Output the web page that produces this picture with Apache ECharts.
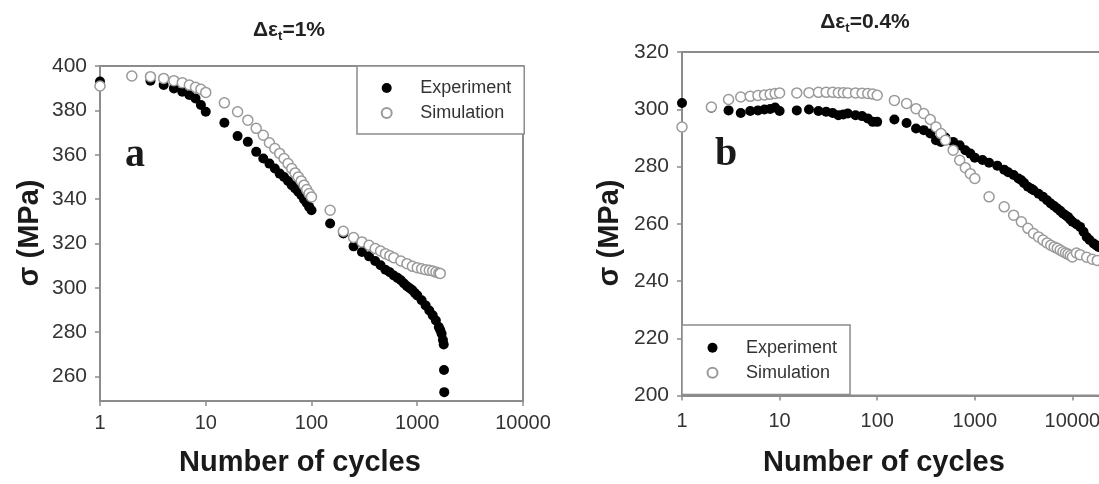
<!DOCTYPE html>
<html><head><meta charset="utf-8">
<script src="https://cdn.jsdelivr.net/npm/echarts@6/dist/echarts.min.js"></script>
<style>html,body{margin:0;padding:0;background:#fff}#c{width:1099px;height:484px}</style>
</head><body><div id="c"></div>
<script>
// ---- Panel a (Δε_t = 1%) ----
const cyclesA_exp = [1,2,3,4,5,6,7,8,9,10,15,20,25,30,35,40,45,50,55,60,65,70,75,80,85,90,95,100,150,200,250,300,350,400,450,500,550,600,650,700,750,800,850,900,950,1000,1100,1200,1300,1400,1500,1600,1650,1700,1750,1780,1790,1800];
const stressA_exp = [393,395.5,393.4,391.4,389.9,388.4,386.9,385.4,382.4,379.4,374.4,368.4,365.8,361.3,358.3,356,353.8,351.5,350,348.2,346.3,344.8,343.3,341.8,339.8,338.3,336.5,335,329,324.5,318.7,316.2,314.2,312.1,310.2,308.2,307,305.6,304.5,303.4,302,300.7,299.8,298.9,297.7,296.6,294.4,292.1,289.8,287.6,285.3,282.3,281,279.3,276.5,274.5,263,253];
const cyclesA_sim = [1,2,3,4,5,6,7,8,9,10,15,20,25,30,35,40,45,50,55,60,65,70,75,80,85,90,95,100,150,200,250,300,350,400,450,500,550,600,700,800,900,1000,1100,1200,1300,1400,1500,1600,1650];
const stressA_sim = [391,395.5,395.2,394.4,393.4,392.5,391.4,390.4,389.5,388.1,383.4,379.4,375.6,371.9,368.8,365.4,362.8,360.6,358.3,356,353.8,351.8,350,348.2,346.3,344.3,342.5,341,335,325.5,322.7,320.7,319.2,317.7,316.6,315.4,314.5,313.6,312.1,310.9,309.7,309.1,308.6,308.2,307.9,307.6,307.1,306.7,306.5];
const yTicksA = [260,280,300,320,340,360,380,400];

// ---- Panel b (Δε_t = 0.4%) ----
const cyclesB_exp = [1,2,3,4,5,6,7,8,9,10,15,20,25,30,35,40,45,50,60,70,80,90,100,150,200,250,300,350,400,450,500,600,700,800,900,1000,1200,1400,1700,2000,2200,2500,2800,3000,3200,3500,3800,4000,4500,5000,5500,6000,6500,7000,7500,8000,8500,9000,9500,10000,11000,12000,13000,14000,15000,16500,17500,18500];
const stressB_exp = [302.2,300.5,299.6,298.7,299.4,299.6,299.9,300.1,300.6,299.4,299.6,299.9,299.4,299.1,298.7,297.9,298.2,298.5,297.9,297.6,296.8,295.6,295.6,296.4,295.2,293.3,292.7,291.5,289.2,288.6,290.1,288.6,287.4,285.7,284.5,283.1,282.3,281.3,280.3,278.9,278,277,275.8,275.2,274.2,272.9,272.2,271.7,270.5,269.4,268.2,267.1,266.2,265.3,264.5,263.6,263,262.4,261.5,260.7,259.8,258.9,257.2,255.4,254.3,253.1,252.5,251.9];
const cyclesB_sim = [1,2,3,4,5,6,7,8,9,10,15,20,25,30,35,40,45,50,60,70,80,90,100,150,200,250,300,350,400,450,500,600,700,800,900,1000,1400,2000,2500,3000,3500,4000,4500,5000,5500,6000,6500,7000,7500,8000,8500,9000,9500,10000,11000,12000,14000,16000,18000];
const stressB_sim = [293.8,300.8,303.4,304.3,304.5,304.8,305,305.2,305.5,305.7,305.7,305.8,305.9,305.9,305.9,305.8,305.8,305.7,305.7,305.6,305.5,305.3,304.9,303.1,302,300.2,298.5,296.4,293.8,291.5,289.2,285.7,282.2,279.6,277.5,275.8,269.4,265.9,263,260.7,258.4,256.6,255.4,254.3,253.3,252.5,251.9,251.4,250.8,250.2,249.8,249.4,248.9,248.4,249.8,249.2,248.3,247.6,247.2];
const yTicksB = [200,220,240,260,280,300,320];

const seriesNames = ['Experiment', 'Simulation'];

const zip = (xs, ys) => xs.map((x, i) => [x, ys[i]]);

const FONT = '"Liberation Sans", Arial, sans-serif';
const AXIS_COLOR = '#8c8c8c';

function xAxisCfg(gridIndex, max, margin) {
  return {
    type: 'log', logBase: 10, min: 1, max: max, gridIndex,
    axisLine: { show: true, lineStyle: { color: AXIS_COLOR, width: 2 } },
    axisTick: { show: true, inside: false, length: 5, lineStyle: { color: AXIS_COLOR, width: 1.5 } },
    minorTick: { show: false },
    splitLine: { show: false },
    axisLabel: { color: '#333', fontSize: 20, fontFamily: FONT, margin: margin,
      formatter: v => String(Math.round(v)) }
  };
}
function yAxisCfg(gridIndex, min, max, ticks) {
  return {
    type: 'value', min, max, gridIndex,
    axisLine: { show: true, lineStyle: { color: AXIS_COLOR, width: 2 } },
    axisTick: { show: true, inside: false, length: 5, customValues: ticks, lineStyle: { color: AXIS_COLOR, width: 1.5 } },
    splitLine: { show: false },
    axisLabel: { color: '#333', fontSize: 21, fontFamily: FONT, margin: 13, customValues: ticks }
  };
}

const expStyle = { color: '#000', opacity: 1 };
const simStyle = { color: '#fff', borderColor: '#9a9a9a', borderWidth: 1.5, opacity: 1 };

function legendCfg(left, top, padding) {
  return {
    orient: 'vertical', left, top, padding,
    data: seriesNames,
    itemGap: 7, itemWidth: 57, itemHeight: 10,
    borderColor: AXIS_COLOR, borderWidth: 1.5, backgroundColor: '#fff',
    textStyle: { fontSize: 18, lineHeight: 18, color: '#333', fontFamily: FONT },
    selectedMode: false
  };
}

function titleText(x, y, tail) {
  return {
    type: 'text', x, y, z: 100,
    style: {
      text: '{m|Δε}{s|t}{m|' + tail + '}',
      align: 'center', verticalAlign: 'middle',
      rich: {
        m: { fontSize: 21, fontWeight: 'bold', fontFamily: FONT, fill: '#222', lineHeight: 26 },
        s: { fontSize: 13, fontWeight: 'bold', fontFamily: FONT, fill: '#222', lineHeight: 10, verticalAlign: 'bottom' }
      }
    }
  };
}
function plainText(x, y, text, font, rotation) {
  return {
    type: 'text', x, y, rotation: rotation || 0, z: 100,
    style: { text, font, fill: '#1a1a1a', align: 'center', verticalAlign: 'middle' }
  };
}

const option = {
  backgroundColor: '#fff',
  animation: false,
  grid: [
    { left: 100, top: 66, width: 423, height: 335, show: true, borderColor: AXIS_COLOR, borderWidth: 2, containLabel: false, outerBoundsMode: 'none' },
    { left: 682, top: 52, width: 488, height: 343.5, show: true, borderColor: AXIS_COLOR, borderWidth: 2, containLabel: false, outerBoundsMode: 'none' }
  ],
  xAxis: [xAxisCfg(0, 10000, 12), xAxisCfg(1, 100000, 16)],
  yAxis: [yAxisCfg(0, 249, 400, yTicksA), yAxisCfg(1, 200, 320, yTicksB)],
  legend: [
    legendCfg(357, 66, [13, 13, 12, 23.7]),
    legendCfg(682, 325, [13.7, 13, 12.7, 24.5])
  ],
  series: [
    { name: seriesNames[0], type: 'scatter', xAxisIndex: 0, yAxisIndex: 0, symbol: 'circle', symbolSize: 10, itemStyle: expStyle, data: zip(cyclesA_exp, stressA_exp) },
    { name: seriesNames[0], type: 'scatter', xAxisIndex: 1, yAxisIndex: 1, symbol: 'circle', symbolSize: 10, itemStyle: expStyle, data: zip(cyclesB_exp, stressB_exp) },
    { name: seriesNames[1], type: 'scatter', xAxisIndex: 0, yAxisIndex: 0, symbol: 'circle', symbolSize: 10, itemStyle: simStyle, data: zip(cyclesA_sim, stressA_sim) },
    { name: seriesNames[1], type: 'scatter', xAxisIndex: 1, yAxisIndex: 1, symbol: 'circle', symbolSize: 10, itemStyle: simStyle, data: zip(cyclesB_sim, stressB_sim) }
  ],
  graphic: [
    titleText(289, 30, '=1%'),
    titleText(865, 22, '=0.4%'),
    plainText(300, 463, 'Number of cycles', 'bold 29px ' + FONT),
    plainText(884, 463, 'Number of cycles', 'bold 29px ' + FONT),
    plainText(30, 233, 'σ (MPa)', 'bold 29px ' + FONT, Math.PI / 2),
    plainText(610, 233, 'σ (MPa)', 'bold 29px ' + FONT, Math.PI / 2),
    plainText(135, 156, 'a', 'bold 40px "Liberation Serif", "Times New Roman", serif'),
    plainText(726, 155, 'b', 'bold 40px "Liberation Serif", "Times New Roman", serif')
  ]
};

const chart = echarts.init(document.getElementById('c'), null, { renderer: 'canvas' });
chart.setOption(option);
</script>
</body></html>
